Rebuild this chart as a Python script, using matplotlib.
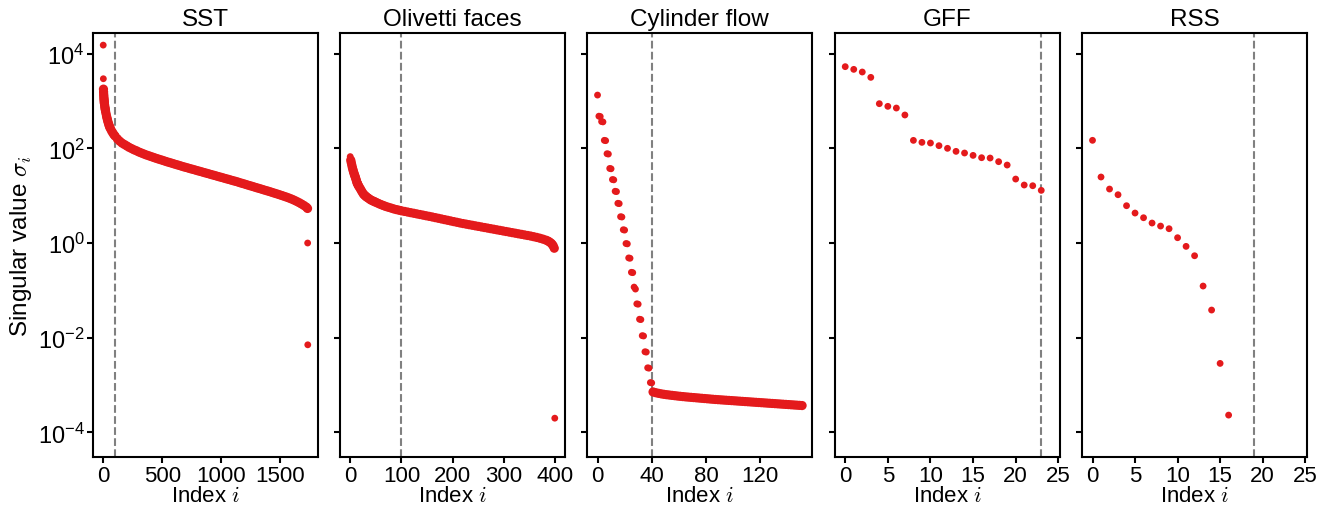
import numpy as np
import matplotlib
matplotlib.use("Agg")
import matplotlib.pyplot as plt
from matplotlib.ticker import FixedLocator, FuncFormatter, NullLocator

plt.rcParams['font.family'] = ['Liberation Sans', 'DejaVu Sans']
plt.rcParams['mathtext.fontset'] = 'cm'

# ---------------- data (log10 of singular values) ----------------
titles = ["SST", "Olivetti faces", "Cylinder flow", "GFF", "RSS"]
cutoffs = [100, 100, 40, 23, 19]

sst_idx = [0, 1, 2, 3, 4, 5, 6, 7, 8, 9, 10, 12, 14, 16, 18, 20, 24, 28, 32, 36, 40, 45, 50, 55, 60,
           70, 80, 90, 100, 120, 140, 160, 180, 200, 220, 240, 260, 280, 300, 320, 340, 360, 380,
           400, 420, 440, 460, 480, 500, 520, 540, 560, 580, 600, 620, 640, 660, 680, 700, 720,
           740, 760, 780, 800, 820, 840, 860, 880, 900, 920, 940, 960, 980, 1000, 1020, 1040,
           1060, 1080, 1100, 1120, 1140, 1160, 1180, 1200, 1220, 1240, 1260, 1280, 1300, 1320,
           1340, 1360, 1380, 1400, 1420, 1440, 1460, 1480, 1500, 1520, 1540, 1560, 1580, 1600,
           1620, 1640, 1660, 1680, 1700, 1720, 1731, 1732, 1733]
sst_log = [4.18, 3.47, 3.25, 3.19, 3.14, 3.10, 3.06, 3.03, 3.00, 2.97, 2.95, 2.91, 2.87, 2.84, 2.81,
           2.78, 2.73, 2.68, 2.64, 2.60, 2.56, 2.52, 2.48, 2.45, 2.42, 2.37, 2.33, 2.29, 2.26, 2.20,
           2.15, 2.11, 2.08, 2.05, 2.02, 1.995, 1.97, 1.95, 1.925, 1.905, 1.885, 1.865, 1.848, 1.83,
           1.813, 1.796, 1.78, 1.764, 1.748, 1.732, 1.716, 1.701, 1.686, 1.671, 1.656, 1.641, 1.626,
           1.611, 1.597, 1.583, 1.569, 1.555, 1.541, 1.527, 1.513, 1.499, 1.485, 1.471, 1.457,
           1.443, 1.429, 1.415, 1.401, 1.387, 1.373, 1.359, 1.345, 1.331, 1.317, 1.303, 1.289,
           1.273, 1.258, 1.243, 1.228, 1.213, 1.198, 1.183, 1.168, 1.153, 1.138, 1.123, 1.108,
           1.093, 1.078, 1.062, 1.046, 1.030, 1.014, 0.998, 0.981, 0.963, 0.944, 0.924, 0.902,
           0.878, 0.852, 0.824, 0.794, 0.76, 0.73, 0.0, -2.15]

oli_idx = [0, 1, 2, 3, 4, 5, 6, 7, 8, 9, 10, 11, 12, 13, 14, 15, 16, 18, 20, 22, 24, 26, 28, 30,
           32, 35, 38, 41, 44, 47, 50, 54, 58, 62, 66, 70, 75, 80, 85, 90, 95, 100, 106, 112, 118,
           124, 130, 136, 142, 148, 154, 160, 166, 172, 178, 184, 190, 196, 202, 208, 214, 220,
           226, 232, 238, 244, 250, 256, 262, 268, 274, 280, 286, 292, 298, 304, 310, 316, 322,
           328, 334, 340, 346, 352, 358, 364, 370, 376, 382, 386, 389, 392, 394, 396, 398, 399]
oli_log = [1.825, 1.75, 1.70, 1.65, 1.60, 1.56, 1.52, 1.485, 1.45, 1.42, 1.39, 1.355, 1.32, 1.28,
           1.26, 1.235, 1.21, 1.175, 1.14, 1.10, 1.065, 1.03, 1.01, 0.99, 0.97, 0.95, 0.925, 0.905,
           0.89, 0.875, 0.86, 0.84, 0.82, 0.803, 0.787, 0.77, 0.753, 0.737, 0.72, 0.706, 0.693,
           0.680, 0.667, 0.654, 0.641, 0.628, 0.615, 0.602, 0.589, 0.576,
           0.563, 0.550, 0.536, 0.522, 0.508, 0.494, 0.480, 0.466, 0.452, 0.438, 0.424, 0.411,
           0.399, 0.387, 0.375, 0.363, 0.351, 0.339, 0.327, 0.315, 0.303, 0.291, 0.279, 0.267,
           0.255, 0.243, 0.231, 0.219, 0.207, 0.195, 0.183, 0.171, 0.159, 0.147, 0.133, 0.118,
           0.101, 0.082, 0.060, 0.040, 0.020, -0.005, -0.030, -0.060, -0.110, -3.70]

cyl_idx = list(range(0, 41)) + list(range(41, 152, 2))
cyl_log = [3.125,
           2.679, 2.672, 2.565, 2.558, 2.169, 2.162, 1.886, 1.879, 1.575, 1.568,
           1.341, 1.334, 1.093, 1.086, 0.839, 0.832, 0.556, 0.549, 0.280, 0.273,
           -0.011, -0.018, -0.315, -0.322, -0.619, -0.626, -0.931, -0.973, -1.285, -1.292,
           -1.610, -1.617, -1.957, -1.964, -2.297, -2.304, -2.636, -2.643, -2.948, -2.955,
           -3.146, -3.162, -3.175, -3.186, -3.196, -3.204, -3.211, -3.218, -3.225, -3.232,
           -3.238, -3.244, -3.250, -3.255, -3.260, -3.265, -3.270, -3.275, -3.280, -3.285,
           -3.290, -3.295, -3.300, -3.305, -3.309, -3.313, -3.317, -3.321, -3.325, -3.329,
           -3.333, -3.337, -3.341, -3.345, -3.349, -3.353, -3.357, -3.361, -3.365, -3.369,
           -3.373, -3.377, -3.381, -3.385, -3.389, -3.393, -3.397, -3.401, -3.405, -3.409,
           -3.413, -3.417, -3.421, -3.425, -3.429, -3.433]

gff_idx = list(range(24))
gff_log = [3.725, 3.668, 3.612, 3.499, 2.943, 2.887, 2.851, 2.704, 2.168, 2.126, 2.112, 2.056,
           2.000, 1.936, 1.901, 1.851, 1.802, 1.795, 1.718, 1.647, 1.351, 1.225, 1.210, 1.112]

rss_idx = list(range(17))
rss_log = [2.169, 1.394, 1.140, 1.020, 0.788, 0.633, 0.534, 0.422, 0.358, 0.302, 0.112, -0.071,
           -0.269, -0.909, -1.416, -2.543, -3.635]

xticks = [[0, 500, 1000, 1500], [0, 100, 200, 300, 400], [0, 40, 80, 120],
          [0, 5, 10, 15, 20, 25], [0, 5, 10, 15, 20, 25]]
yticks = [1e-4, 1e-2, 1e0, 1e2, 1e4]

series = [(sst_idx, sst_log), (oli_idx, oli_log), (cyl_idx, cyl_log),
          (gff_idx, gff_log), (rss_idx, rss_log)]

# ---------------- style ----------------
xlims = [None, None, None, (-1.2, 25.2), (-1.2, 25.25)]
dense_ranges = [(2, 1731), (1, 398), (41, 151), None, None]   # drawn with a heavier dot
s_single, s_dense = 24, 44
red = '#e41a1c'

W, H = 1332, 506
fig = plt.figure(figsize=(W / 100, H / 100), dpi=100)
lefts = [93, 340, 587.3, 835, 1082.3]
axw = 225
top, bottom = 34, 458


def sci(v, pos):
    e = int(round(np.log10(v)))
    return r'$\mathdefault{10^{%d}}$' % e


axes = []
for k in range(5):
    ax = fig.add_axes([lefts[k] / W, 1 - bottom / H, axw / W, (bottom - top) / H],
                      sharey=axes[0] if axes else None)
    axes.append(ax)
    idx, lg = series[k]
    idx = np.asarray(idx)
    sizes = np.full(len(idx), s_single, dtype=float)
    if dense_ranges[k] is not None:
        a, b = dense_ranges[k]
        sizes[(idx >= a) & (idx <= b)] = s_dense
    ax.scatter(idx, 10.0 ** np.array(lg), s=sizes, color=red, linewidths=0, zorder=3)
    ax.axvline(cutoffs[k], color='0.5', ls='--', lw=1.5, zorder=2)
    ax.set_yscale('log')
    ax.set_xticks(xticks[k])
    if xlims[k] is not None:
        ax.set_xlim(*xlims[k])
    ax.set_title(titles[k], fontsize=17.5, pad=6)
    ax.set_xlabel('Index $i$', fontsize=16, labelpad=-1)
    ax.tick_params(axis='x', which='major', labelsize=16)
    ax.tick_params(axis='y', which='major', labelsize=17)
    ax.tick_params(axis='both', which='major', length=4, width=1.5,
                   direction='out', pad=2)
    for sp in ax.spines.values():
        sp.set_linewidth(1.5)
    if k > 0:
        ax.tick_params(axis='y', labelleft=False)

axes[0].set_ylim(10 ** -4.52, 10 ** 4.436)
axes[0].yaxis.set_major_locator(FixedLocator(yticks))
axes[0].yaxis.set_major_formatter(FuncFormatter(sci))
axes[0].yaxis.set_minor_locator(NullLocator())
axes[0].set_ylabel('Singular value $\\sigma_i$', fontsize=17.5, labelpad=3)

fig.savefig('out.png', dpi=100)
